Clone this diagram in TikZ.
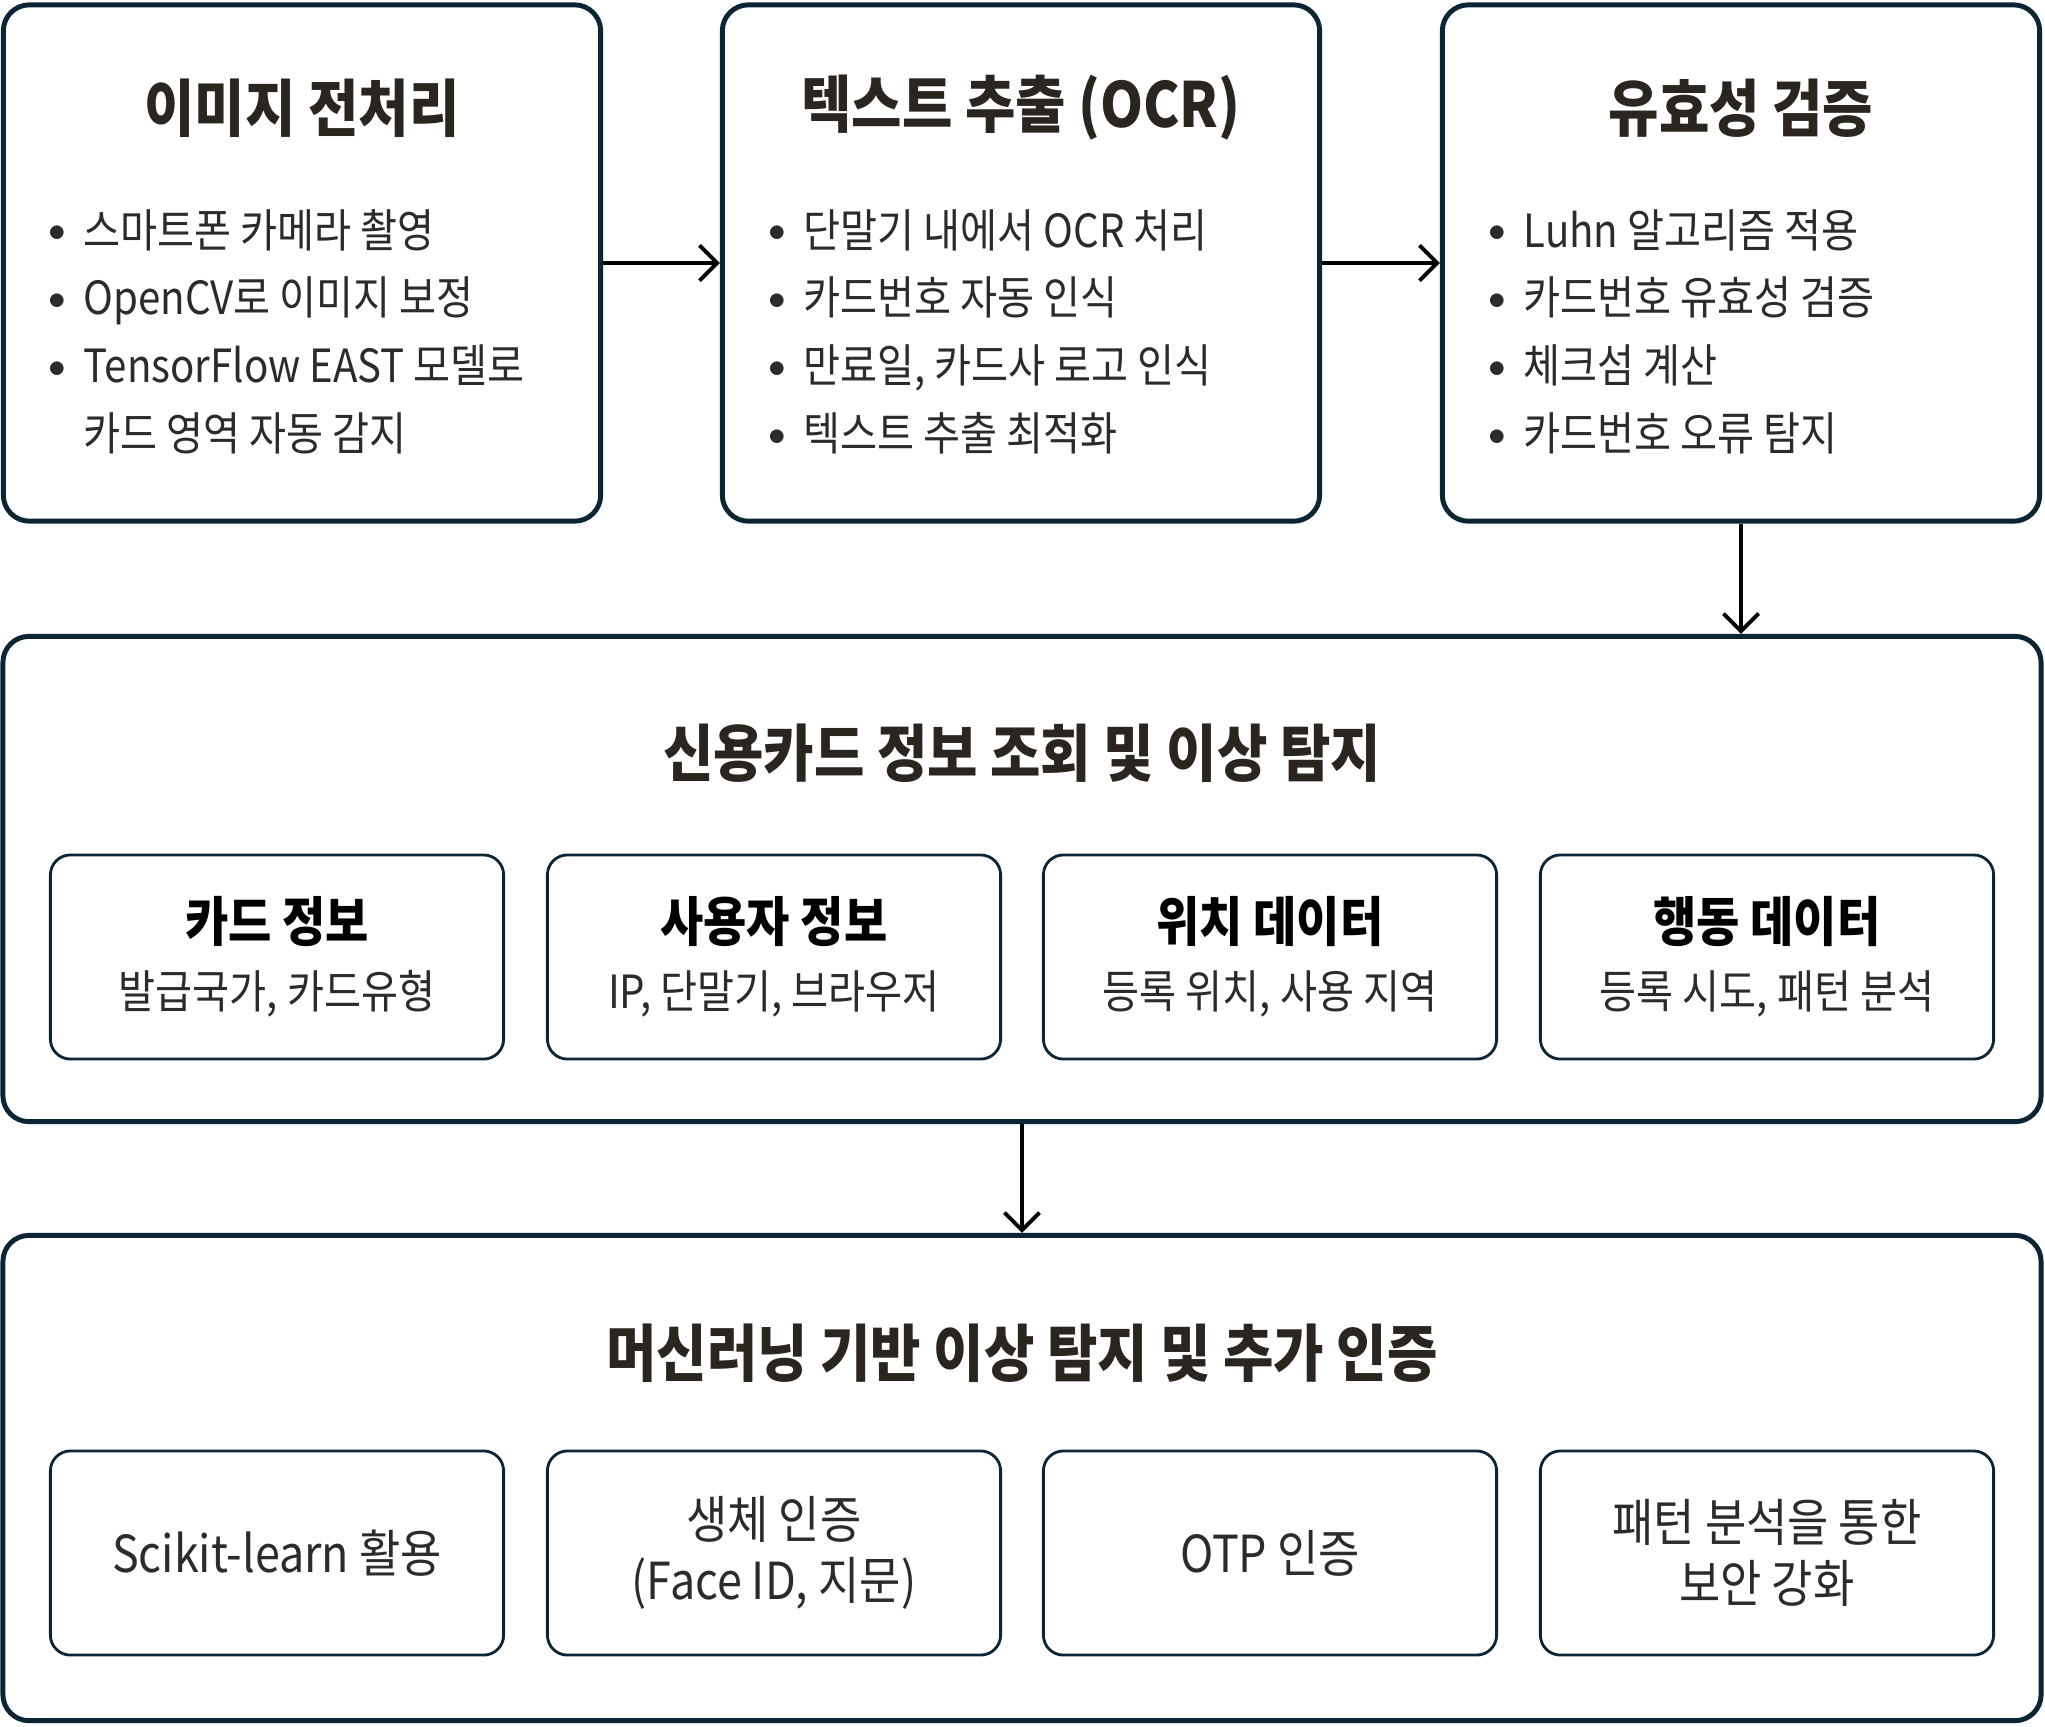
\documentclass[tikz,border=0pt]{standalone}
\usepackage{fontspec}
\setmainfont[FakeStretch=0.88]{Noto Sans CJK KR}
\usetikzlibrary{arrows.meta,positioning}

\definecolor{boxline}{HTML}{0B2535}
\definecolor{headink}{HTML}{2A251F}
\definecolor{bodyink}{HTML}{2B2B2B}

\tikzset{
  stagebox/.style={draw=boxline,line width=1.4pt,rounded corners=0.26cm,
    minimum width=5.97cm,minimum height=5.16cm},
  layerbox/.style={draw=boxline,line width=1.4pt,rounded corners=0.26cm,
    minimum width=20.37cm,minimum height=4.85cm},
  itembox/.style={draw=boxline,line width=0.8pt,rounded corners=0.2cm,
    minimum width=4.53cm,minimum height=2.04cm,align=center,text=bodyink,
    font=\fontsize{13}{19}\selectfont},
  authbox/.style={itembox,font=\fontsize{14.5}{17.5}\selectfont},
  headtext/.style={text=headink,font=\fontsize{17.7}{21}\selectfont\bfseries},
  listtext/.style={text=bodyink,inner sep=0pt,anchor=base west,
    font=\fontsize{13}{19.3}\selectfont},
  flow/.style={-{Straight Barb[length=5pt,width=10pt]},line width=1.1pt}
}
\newcommand{\itemhead}[1]{{\fontsize{15.2}{19}\selectfont\bfseries\color{black}#1}}
\newcommand{\dotmark}{\makebox[6.8pt][c]{\raisebox{1.6pt}{\fontsize{10}{10}\selectfont$\bullet$}}}

\begin{document}
\begin{tikzpicture}[x=0.01cm,y=-0.01cm]
\useasboundingbox[fill=white] (0,0) rectangle (2045,1726);

% three stages
\node[stagebox] (prep) at (302,263) {};
\node[stagebox] (ocr) at (1021,263) {};
\node[stagebox] (check) at (1741,263) {};

\node[headtext] (prepT) at (302,108) {이미지 전처리};
\node[headtext] (ocrT) at (1021,108) {텍스트 추출 (OCR)};
\node[headtext] (checkT) at (1741,108) {유효성 검증};

\node[listtext] (prepL) at (45,247) {\begin{tabular}[t]{@{}l@{\hspace{4pt}}l@{}}
\dotmark & 스마트폰 카메라 촬영\\
\dotmark & OpenCV로 이미지 보정\\
\dotmark & TensorFlow EAST 모델로\\
 & 카드 영역 자동 감지
\end{tabular}};
\node[listtext] (ocrL) at (765,247) {\begin{tabular}[t]{@{}l@{\hspace{4pt}}l@{}}
\dotmark & 단말기 내에서 OCR 처리\\
\dotmark & 카드번호 자동 인식\\
\dotmark & 만료일, 카드사 로고 인식\\
\dotmark & 텍스트 추출 최적화
\end{tabular}};
\node[listtext] (checkL) at (1485,247) {\begin{tabular}[t]{@{}l@{\hspace{4pt}}l@{}}
\dotmark & Luhn 알고리즘 적용\\
\dotmark & 카드번호 유효성 검증\\
\dotmark & 체크섬 계산\\
\dotmark & 카드번호 오류 탐지
\end{tabular}};

% lookup layer
\node[layerbox] (lookup) at (1022,879) {};
\node[headtext] (lookupT) at (1022,753) {신용카드 정보 조회 및 이상 탐지};
\node[itembox] (cardinfo) at (277,957) {\itemhead{카드 정보}\\발급국가, 카드유형};
\node[itembox] (userinfo) at (774,957) {\itemhead{사용자 정보}\\IP, 단말기, 브라우저};
\node[itembox] (geoinfo) at (1270,957) {\itemhead{위치 데이터}\\등록 위치, 사용 지역};
\node[itembox] (actinfo) at (1767,957) {\itemhead{행동 데이터}\\등록 시도, 패턴 분석};

% ML layer
\node[layerbox] (mlauth) at (1022,1478) {};
\node[headtext] (mlauthT) at (1022,1353) {머신러닝 기반 이상 탐지 및 추가 인증};
\node[authbox] (sklearn) at (277,1553) {Scikit-learn 활용};
\node[authbox] (bio) at (774,1553) {생체 인증\\(Face ID, 지문)};
\node[authbox] (otp) at (1270,1553) {OTP 인증};
\node[authbox] (pattern) at (1767,1553) {패턴 분석을 통한\\보안 강화};

\draw[flow] (prep) -- (ocr);
\draw[flow] (ocr) -- (check);
\draw[flow] (check.south) -- (check.south |- lookup.north);
\draw[flow] (lookup.south) -- (mlauth.north);
\end{tikzpicture}
\end{document}
